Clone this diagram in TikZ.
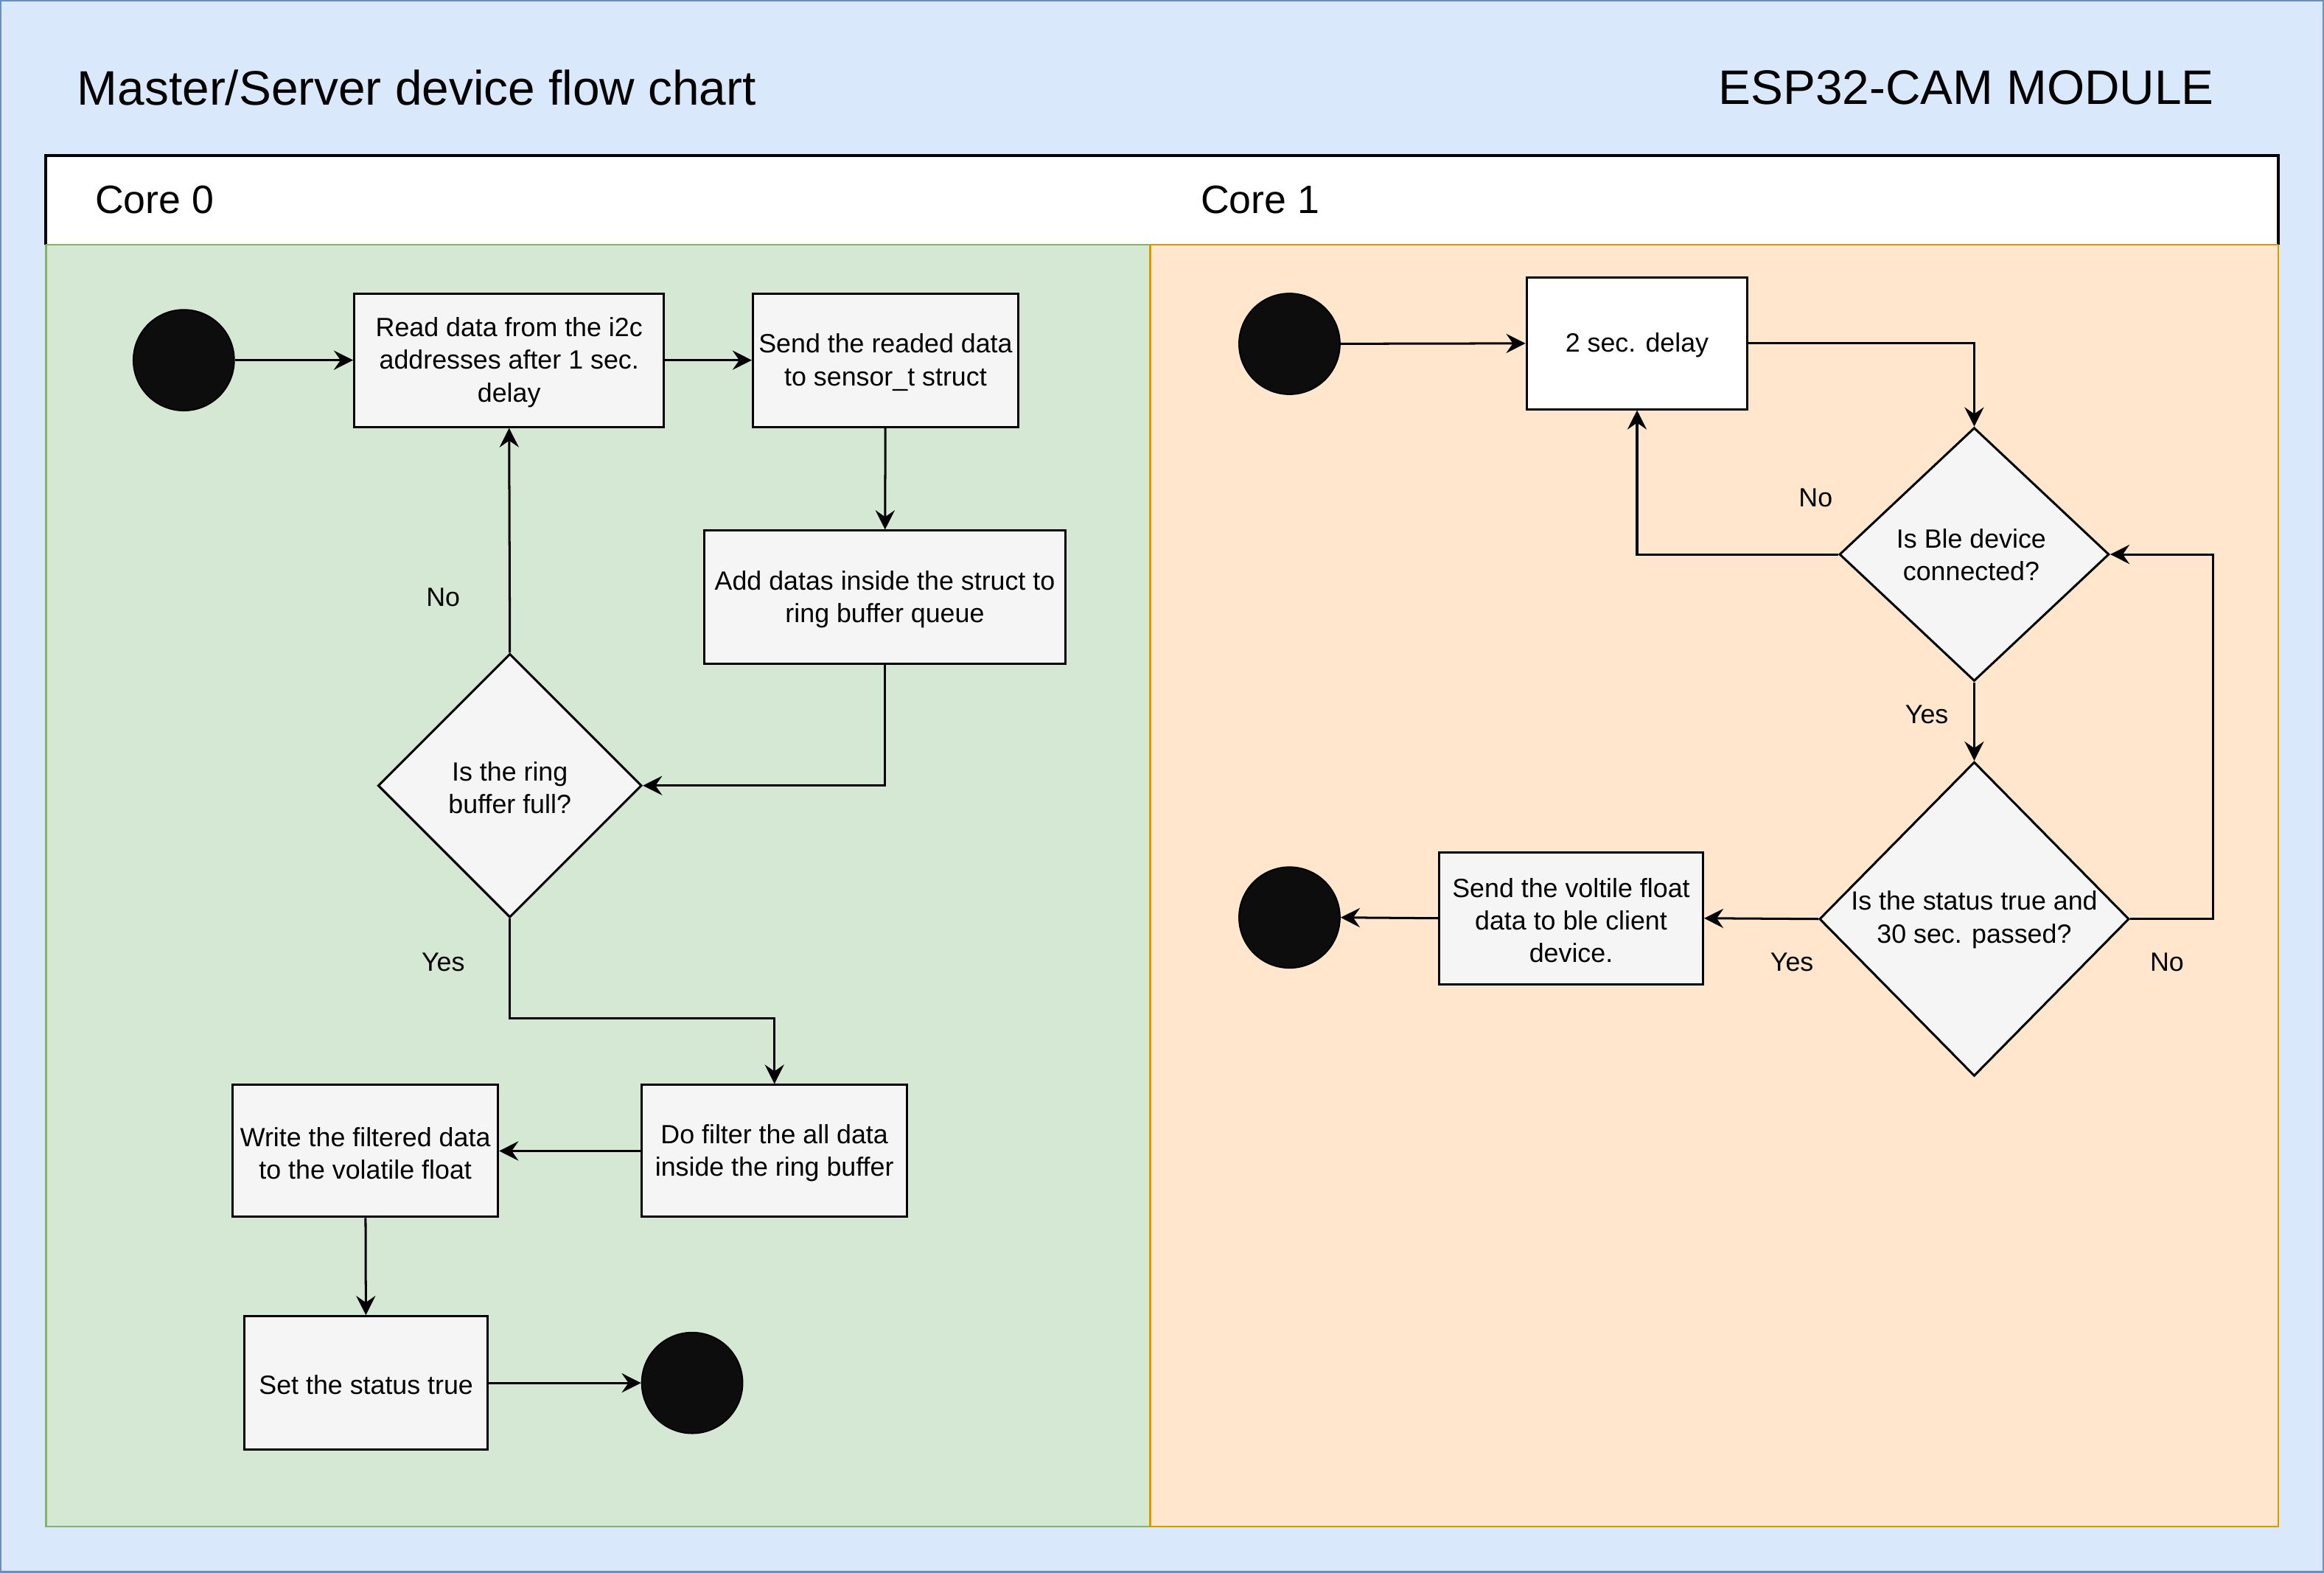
\documentclass[tikz,border=0pt]{standalone}
\usepackage{fontspec}
\setmainfont{Liberation Sans}
\usetikzlibrary{arrows.meta,shapes.geometric,calc}
\definecolor{poolfill}{HTML}{DAE8FC}
\definecolor{poolline}{HTML}{6C8EBF}
\definecolor{greenfill}{HTML}{D5E8D4}
\definecolor{greenline}{HTML}{82B366}
\definecolor{orangefill}{HTML}{FFE6CC}
\definecolor{orangeline}{HTML}{D79B00}
\definecolor{boxfill}{HTML}{F5F5F5}
\definecolor{dot}{HTML}{0D0D0D}
\tikzset{
  txt/.style={font=\fontsize{17.8}{22}\selectfont, align=center, inner sep=0pt, yshift=-1.5pt},
  procbox/.style={draw=black, line width=1.5pt, fill=boxfill, inner sep=0pt, anchor=center},
  diabox/.style={draw=black, line width=1.5pt, fill=boxfill, diamond, inner sep=0pt},
  dotnode/.style={circle, draw=black, line width=1pt, fill=dot, minimum size=68pt, inner sep=0pt},
  conn/.style={line width=1.5pt, -{Stealth[length=13pt,width=13pt,inset=4.5pt]}},
  lbl/.style={font=\fontsize{17.8}{22}\selectfont, inner sep=0pt, yshift=-1pt},
}
\begin{document}
\begin{tikzpicture}[x=1pt,y=-1pt]
\useasboundingbox (0,0) rectangle (1568,1061);
% pool background
\draw[fill=poolfill, draw=poolline, line width=1.2pt] (0.6,0.6) rectangle (1567.4,1060.4);
\node[anchor=west, inner sep=0pt, font=\fontsize{32.7}{38}\selectfont] (title) at (52,59) {Master/Server device flow chart};
\node[anchor=east, inner sep=0pt, font=\fontsize{32.7}{38}\selectfont] (module) at (1494,59) {ESP32-CAM MODULE};
% lanes
\draw[fill=greenfill, draw=greenline, line width=1.2pt] (31,165) rectangle (776,1030);
\draw[fill=orangefill, draw=orangeline, line width=1.2pt] (776,165) rectangle (1537,1030);
\draw[fill=white, draw=black, line width=2pt] (31,165) -- (31,105) -- (1537,105) -- (1537,165);
\draw[draw=greenline, line width=1.2pt] (31,165) -- (776,165);
\draw[draw=orangeline, line width=1.2pt] (776,165) -- (1537,165);
\node[anchor=west, inner sep=0pt, font=\fontsize{26.7}{32}\selectfont] (core0) at (64,135) {Core 0};
\node[anchor=west, inner sep=0pt, font=\fontsize{26.7}{32}\selectfont] (core1) at (810,135) {Core 1};

% ---------- Core 0 ----------
\node[dotnode] (s0) at (124,243) {};
\node[procbox, minimum width=209pt, minimum height=90pt] (A) at (343.5,243) {};
\node[txt] (At) at (A) {Read data from the i2c\\addresses after 1 sec.\\delay};
\node[procbox, minimum width=179pt, minimum height=90pt] (B) at (597.5,243) {};
\node[txt] (Bt) at (B) {Send the readed data\\to sensor\_t struct};
\node[procbox, minimum width=244pt, minimum height=90pt] (C) at (597,403) {};
\node[txt] (Ct) at (C) {Add datas inside the struct to\\ring buffer queue};
\node[diabox, minimum width=178pt, minimum height=178pt] (D) at (344,530) {};
\node[txt] (Dt) at (D) {Is the ring\\ buffer full?};
\node[procbox, minimum width=179pt, minimum height=89pt] (E) at (522.5,776.5) {};
\node[txt] (Et) at (E) {Do filter the all data\\inside the ring buffer};
\node[procbox, minimum width=179pt, minimum height=89pt] (F) at (246.5,776.5) {};
\node[txt] (Ft) at (F) {Write the filtered data\\to the volatile float};
\node[procbox, minimum width=164pt, minimum height=90pt] (G) at (247,933) {};
\node[txt] (Gt) at (G) {Set the status true};
\node[dotnode] (e0) at (467,933) {};
\coordinate (d1) at (344,687);

\draw[conn] (s0) -- (A);
\draw[conn] (A) -- (B);
\draw[conn] (B) -- (C);
\draw[conn] (C.south) |- (D.east);
\draw[conn] (D.north) -- (A.south);
\draw[conn] (D.south) -- (d1) -| (E.north);
\draw[conn] (E) -- (F);
\draw[conn] (F) -- (G);
\draw[conn] (G) -- (e0);
\node[lbl] (no0) at (299,402) {No};
\node[lbl] (yes0) at (299,648) {Yes};

% ---------- Core 1 ----------
\node[dotnode] (s1) at (870,232) {};
\node[draw=black, line width=1.5pt, fill=white, inner sep=0pt, minimum width=149pt, minimum height=89pt] (H) at (1104.5,231.5) {};
\node[txt] (Ht) at (H) {2 sec. delay};
\node[diabox, minimum width=182pt, minimum height=171pt] (I) at (1332,374) {};
\node[txt] (It) at (1330,373) {Is Ble device\\connected?};
\node[diabox, minimum width=209pt, minimum height=212pt] (J) at (1332,620) {};
\node[txt] (Jt) at (1332,619) {Is the status true and\\ 30 sec. passed?};
\node[procbox, minimum width=178pt, minimum height=89pt] (K) at (1060,619.5) {};
\node[txt] (Kt) at (K) {Send the voltile float\\data to ble client\\device.};
\node[dotnode] (e1) at (870,619) {};
\coordinate (j1) at (1493,620);

\draw[conn] (s1) -- (H);
\draw[conn] (H.east) -| (I.north);
\draw[conn] (I.west) -| (H.south);
\draw[conn] (I.south) -- (J.north);
\draw[conn] (J.east) -- (j1) |- (I.east);
\draw[conn] (J.west) -- (K.east);
\draw[conn] (K.west) -- (e1.east);
\node[lbl] (no1) at (1225,335) {No};
\node[lbl] (yes1) at (1300,481) {Yes};
\node[lbl] (yes2) at (1209,648) {Yes};
\node[lbl] (no2) at (1462,648) {No};
\end{tikzpicture}
\end{document}
